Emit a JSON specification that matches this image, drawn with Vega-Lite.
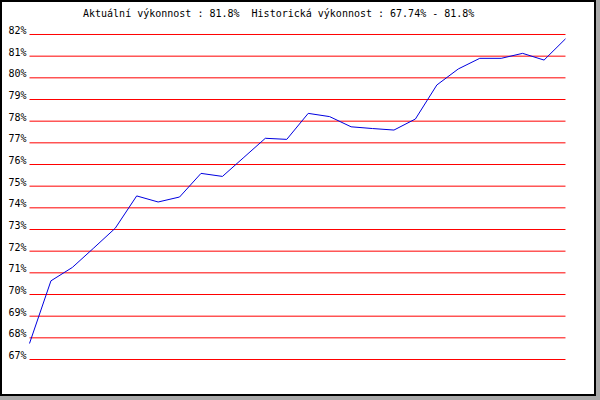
{
  "$schema": "https://vega.github.io/schema/vega-lite/v6.json",
  "width": 594,
  "height": 394,
  "autosize": {"type": "none"},
  "padding": {"left": 1, "top": 1, "right": 5, "bottom": 5},
  "background": "#a9a9a9",
  "config": {
    "view": {"fill": "white", "stroke": "black", "strokeWidth": 2},
    "font": "DejaVu Sans Mono"
  },
  "title": {
    "text": "Aktuální výkonnost : 81.8%\u00a0 Historická výkonnost : 67.74% - 81.8%",
    "anchor": "start",
    "frame": "group",
    "dx": 82,
    "dy": 26,
    "offset": 0,
    "baseline": "alphabetic",
    "fontSize": 10,
    "fontWeight": "normal",
    "font": "DejaVu Sans Mono",
    "color": "black"
  },
  "datasets": {
    "levels": [
      {"lvl": 67}, {"lvl": 68}, {"lvl": 69}, {"lvl": 70}, {"lvl": 71}, {"lvl": 72},
      {"lvl": 73}, {"lvl": 74}, {"lvl": 75}, {"lvl": 76}, {"lvl": 77}, {"lvl": 78},
      {"lvl": 79}, {"lvl": 80}, {"lvl": 81}, {"lvl": 82}
    ],
    "perf": [
      {"idx": 0, "val": 67.74}, {"idx": 1, "val": 70.63}, {"idx": 2, "val": 71.25},
      {"idx": 3, "val": 72.15}, {"idx": 4, "val": 73.06}, {"idx": 5, "val": 74.55},
      {"idx": 6, "val": 74.27}, {"idx": 7, "val": 74.5}, {"idx": 8, "val": 75.59},
      {"idx": 9, "val": 75.45}, {"idx": 10, "val": 76.33}, {"idx": 11, "val": 77.21},
      {"idx": 12, "val": 77.16}, {"idx": 13, "val": 78.36}, {"idx": 14, "val": 78.21},
      {"idx": 15, "val": 77.74}, {"idx": 16, "val": 77.66}, {"idx": 17, "val": 77.59},
      {"idx": 18, "val": 78.1}, {"idx": 19, "val": 79.67}, {"idx": 20, "val": 80.41},
      {"idx": 21, "val": 80.9}, {"idx": 22, "val": 80.9}, {"idx": 23, "val": 81.13},
      {"idx": 24, "val": 80.82}, {"idx": 25, "val": 81.8}
    ]
  },
  "layer": [
    {
      "data": {"name": "levels"},
      "mark": {"type": "rule", "color": "#ff0000", "strokeWidth": 1},
      "encoding": {
        "y": {
          "field": "lvl",
          "type": "quantitative",
          "scale": {"domain": [65.362, 83.546], "nice": false, "zero": false},
          "axis": {
            "values": [67, 68, 69, 70, 71, 72, 73, 74, 75, 76, 77, 78, 79, 80, 81, 82],
            "tickCount": 20,
            "format": "d",
            "labelExpr": "datum.label + '%'",
            "domain": false,
            "ticks": false,
            "tickSize": 0,
            "grid": false,
            "labelAlign": "left",
            "labelPadding": -7,
            "labelBaseline": "alphabetic",
            "labelOffset": -1,
            "labelFont": "DejaVu Sans Mono",
            "labelFontSize": 10,
            "labelColor": "black",
            "labelOverlap": false,
            "title": null
          }
        },
        "x": {
          "datum": 0,
          "type": "quantitative",
          "scale": {"domain": [-1.329, 26.376], "nice": false, "zero": false},
          "axis": null
        },
        "x2": {"datum": 25}
      }
    },
    {
      "data": {"name": "perf"},
      "mark": {"type": "line", "color": "#0000e0", "strokeWidth": 1},
      "encoding": {
        "x": {
          "field": "idx",
          "type": "quantitative",
          "scale": {"domain": [-1.329, 26.376], "nice": false, "zero": false}
        },
        "y": {
          "field": "val",
          "type": "quantitative",
          "scale": {"domain": [65.362, 83.546], "nice": false, "zero": false}
        }
      }
    }
  ]
}
